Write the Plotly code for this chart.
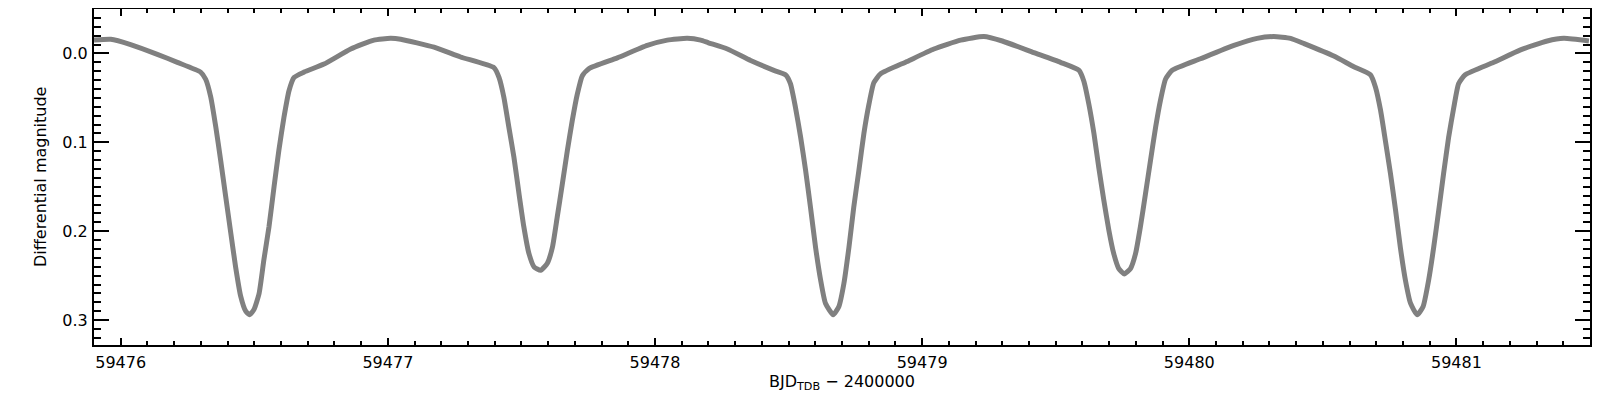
'''
    Light curve of an eclipsing binary: differential magnitude vs. BJD.
'''

import plotly.graph_objects as go

# Time of each sample (BJD_TDB - 2400000)
bjd = [
    59475.900, 59475.963, 59476.037, 59476.137, 59476.212, 59476.299, 59476.318,
    59476.337, 59476.356, 59476.374, 59476.393, 59476.412, 59476.430, 59476.449,
    59476.468, 59476.483, 59476.499, 59476.518, 59476.536, 59476.555, 59476.574,
    59476.592, 59476.611, 59476.630, 59476.649, 59476.686, 59476.761, 59476.861,
    59476.948, 59477.010, 59477.048, 59477.173, 59477.272, 59477.397, 59477.416,
    59477.434, 59477.453, 59477.472, 59477.491, 59477.509, 59477.528, 59477.547,
    59477.572, 59477.597, 59477.616, 59477.634, 59477.653, 59477.672, 59477.690,
    59477.709, 59477.728, 59477.753, 59477.859, 59477.971, 59478.046, 59478.121,
    59478.171, 59478.200, 59478.271, 59478.358, 59478.445, 59478.489, 59478.507,
    59478.526, 59478.545, 59478.564, 59478.582, 59478.601, 59478.620, 59478.638,
    59478.667, 59478.688, 59478.707, 59478.726, 59478.744, 59478.763, 59478.782,
    59478.801, 59478.819, 59478.844, 59478.944, 59479.044, 59479.144, 59479.231,
    59479.300, 59479.418, 59479.518, 59479.587, 59479.605, 59479.624, 59479.643,
    59479.661, 59479.680, 59479.699, 59479.717, 59479.736, 59479.757, 59479.780,
    59479.799, 59479.817, 59479.836, 59479.855, 59479.874, 59479.892, 59479.911,
    59479.936, 59480.042, 59480.167, 59480.254, 59480.316, 59480.379, 59480.430,
    59480.541, 59480.616, 59480.678, 59480.697, 59480.716, 59480.734, 59480.753,
    59480.772, 59480.790, 59480.809, 59480.828, 59480.853, 59480.875, 59480.896,
    59480.915, 59480.934, 59480.952, 59480.971, 59480.990, 59481.008, 59481.033,
    59481.140, 59481.240, 59481.340, 59481.402, 59481.496,
]

# Differential magnitude of each sample
dmag = [
    -0.015, -0.016, -0.010, 0.001, 0.010, 0.021, 0.029,
    0.049, 0.083, 0.120, 0.161, 0.202, 0.240, 0.273,
    0.290, 0.294, 0.288, 0.270, 0.232, 0.195, 0.150,
    0.109, 0.072, 0.042, 0.027, 0.021, 0.012, -0.005,
    -0.015, -0.017, -0.016, -0.007, 0.004, 0.016, 0.027,
    0.049, 0.083, 0.117, 0.158, 0.195, 0.225, 0.240,
    0.244, 0.236, 0.218, 0.184, 0.147, 0.109, 0.076,
    0.046, 0.025, 0.017, 0.005, -0.009, -0.015, -0.017,
    -0.015, -0.012, -0.005, 0.008, 0.019, 0.024, 0.034,
    0.061, 0.094, 0.132, 0.173, 0.218, 0.255, 0.281,
    0.294, 0.285, 0.259, 0.218, 0.173, 0.132, 0.090,
    0.057, 0.033, 0.023, 0.009, -0.005, -0.015, -0.019,
    -0.014, -0.001, 0.010, 0.019, 0.031, 0.057, 0.090,
    0.128, 0.165, 0.199, 0.225, 0.242, 0.248, 0.242,
    0.225, 0.195, 0.158, 0.120, 0.083, 0.053, 0.029,
    0.019, 0.006, -0.009, -0.017, -0.019, -0.017, -0.011,
    0.003, 0.015, 0.024, 0.038, 0.064, 0.098, 0.135,
    0.176, 0.218, 0.255, 0.281, 0.294, 0.285, 0.255,
    0.218, 0.176, 0.135, 0.094, 0.061, 0.034, 0.024,
    0.010, -0.004, -0.014, -0.017, -0.014,
]

x_range = [59475.90, 59481.50]
y_range = [0.328, -0.050]

FONT = 'DejaVu Sans'


def get_plot():
    '''
        Builds the light curve figure.

        Returns:
            The generated figure
    '''
    fig = go.Figure(go.Scatter(
        x=bjd,
        y=dmag,
        mode='lines',
        line=dict(color='#808080', width=5, shape='spline', smoothing=0.5),
        hoverinfo='skip',
    ))
    return fig


def update_axes(fig):
    '''
        IDL-style boxed axes with inside ticks on all four sides.
    '''
    common = dict(
        showline=True, linecolor='black', linewidth=2, mirror='ticks',
        ticks='inside', tickcolor='black', tickwidth=1.5,
        showgrid=False, zeroline=False, automargin=False,
        tickfont=dict(family=FONT, size=16, color='black'),
    )
    fig.update_xaxes(
        range=x_range, tick0=59476, dtick=1, tickformat='d', ticklen=7,
        minor=dict(dtick=0.1, tick0=59476, ticks='inside', ticklen=4,
                   tickcolor='black', tickwidth=1.5),
        ticklabelstandoff=2,
        **common
    )
    fig.update_yaxes(
        range=y_range, tick0=0, dtick=0.1, tickformat='.1f', ticklen=15,
        minor=dict(dtick=0.01, tick0=0, ticks='inside', ticklen=7,
                   tickcolor='black', tickwidth=1.5),
        ticklabelstandoff=1,
        **common
    )
    return fig


def update_layout(fig):
    '''
        Size, margins and axis titles. The page body adds an 8 px offset,
        so the figure is a little smaller than the window.
    '''
    fig.update_layout(
        width=1592, height=392,
        margin=dict(l=86, r=10, t=1, b=55),
        paper_bgcolor='white', plot_bgcolor='white',
        showlegend=False,
        annotations=[
            dict(text='Differential magnitude', textangle=-90,
                 xref='paper', yref='paper', x=-54 / 1496, y=0.5,
                 xanchor='center', yanchor='middle', showarrow=False,
                 font=dict(family=FONT, size=16, color='black')),
            dict(text='BJD<sub>TDB</sub> \u2212 2400000',
                 xref='paper', yref='paper', x=0.5, y=-37 / 336,
                 xanchor='center', yanchor='middle', showarrow=False,
                 font=dict(family=FONT, size=16, color='black')),
        ],
    )
    return fig


fig = get_plot()
fig = update_axes(fig)
fig = update_layout(fig)
fig.write_html('out.html')
